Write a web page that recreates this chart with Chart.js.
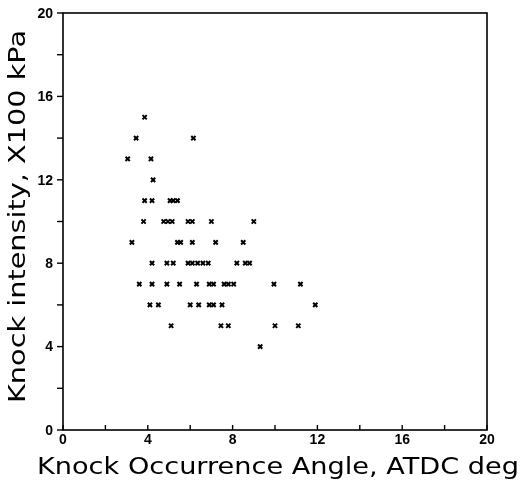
<!DOCTYPE html>
<html><head><meta charset="utf-8">
<script src="https://cdn.jsdelivr.net/npm/chart.js@4/dist/chart.umd.min.js"></script>
<style>html,body{margin:0;padding:0;background:#fff;}canvas{display:block;}</style>
</head><body>
<canvas id="c" width="521" height="487"></canvas>
<script>
// Knock occurrence angle (deg ATDC) and knock intensity (x100 kPa)
const angle = [
  3.85,
  3.45, 6.15,
  3.05, 4.15,
  4.25,
  3.85, 4.2, 5.05, 5.2, 5.4,
  3.8, 4.75, 4.95, 5.15, 5.9, 6.1, 7.0, 9.0,
  3.25, 5.4, 5.55, 6.1, 7.2, 8.5,
  4.2, 4.9, 5.2, 5.9, 6.1, 6.35, 6.6, 6.85, 8.2, 8.6, 8.8,
  3.6, 4.2, 4.9, 5.5, 6.3, 6.9, 7.1, 7.6, 7.8, 8.05, 9.95, 11.2,
  4.1, 4.5, 6.0, 6.4, 6.9, 7.1, 7.5, 11.9,
  5.1, 7.45, 7.8, 10.0, 11.1,
  9.3
];
const intensity = [
  15,
  14, 14,
  13, 13,
  12,
  11, 11, 11, 11, 11,
  10, 10, 10, 10, 10, 10, 10, 10,
  9, 9, 9, 9, 9, 9,
  8, 8, 8, 8, 8, 8, 8, 8, 8, 8, 8,
  7, 7, 7, 7, 7, 7, 7, 7, 7, 7, 7, 7,
  6, 6, 6, 6, 6, 6, 6, 6,
  5, 5, 5, 5, 5,
  4
];
const xTickLabels = ['0','4','8','12','16','20'];
const yTickLabels = ['0','4','8','12','16','20'];
const xTitle = 'Knock Occurrence Angle, ATDC deg';
const yTitle = 'Knock intensity, X100 kPa';

const points = angle.map((a, i) => ({x: a, y: intensity[i]}));
const FONT = '"Liberation Sans", Arial, sans-serif';
const TFONT = 'normal 23px "DejaVu Sans", sans-serif';

const framePlugin = {
  id: 'frame',
  afterDraw(chart) {
    const ctx = chart.ctx;
    const a = chart.chartArea;
    const xs = chart.scales.x, ys = chart.scales.y;
    ctx.save();
    ctx.strokeStyle = '#000';
    ctx.lineWidth = 1.6;
    ctx.strokeRect(a.left, a.top, a.right - a.left, a.bottom - a.top);
    ctx.lineWidth = 1.4;
    for (let v = 0; v <= 20; v += 2) {
      const px = xs.getPixelForValue(v);
      ctx.beginPath(); ctx.moveTo(px, a.bottom); ctx.lineTo(px, a.bottom - 5); ctx.stroke();
    }
    for (let v = 0; v <= 20; v += 2) {
      const py = ys.getPixelForValue(v);
      ctx.beginPath(); ctx.moveTo(a.left, py); ctx.lineTo(a.left - 6, py); ctx.stroke();
    }
    ctx.fillStyle = '#000';
    ctx.font = 'bold 14px ' + FONT;
    ctx.textAlign = 'center'; ctx.textBaseline = 'middle';
    xTickLabels.forEach(l => {
      ctx.fillText(l, xs.getPixelForValue(+l), a.bottom + 10);
    });
    ctx.textAlign = 'right';
    yTickLabels.forEach(l => {
      ctx.fillText(l, a.left - 10, ys.getPixelForValue(+l) + 1);
    });
    ctx.font = TFONT;
    ctx.textAlign = 'left'; ctx.textBaseline = 'alphabetic';
    let w = ctx.measureText(xTitle).width;
    ctx.save();
    ctx.translate(37, 474);
    ctx.scale(482 / w, 1);
    ctx.fillText(xTitle, 0, 0);
    ctx.restore();
    w = ctx.measureText(yTitle).width;
    ctx.save();
    ctx.translate(25, 403);
    ctx.rotate(-Math.PI / 2);
    ctx.scale(373 / w, 1);
    ctx.fillText(yTitle, 0, 0);
    ctx.restore();
    ctx.restore();
  }
};

new Chart(document.getElementById('c'), {
  type: 'scatter',
  data: { datasets: [{
    data: points,
    pointStyle: 'crossRot',
    pointRadius: 3,
    pointBorderWidth: 2,
    borderColor: '#000',
    backgroundColor: '#000'
  }]},
  options: {
    responsive: false,
    animation: false,
    devicePixelRatio: 1,
    layout: { padding: { top: 13, right: 34, left: 0, bottom: 0 } },
    plugins: { legend: { display: false }, tooltip: { enabled: false } },
    scales: {
      x: {
        type: 'linear', min: 0, max: 20,
        ticks: { display: false, stepSize: 4 },
        grid: { display: false },
        border: { display: false },
        afterFit(s) { s.height = 57; }
      },
      y: {
        type: 'linear', min: 0, max: 20,
        ticks: { display: false, stepSize: 4 },
        grid: { display: false },
        border: { display: false },
        afterFit(s) { s.width = 63; }
      }
    }
  },
  plugins: [framePlugin]
});
</script>
</body></html>
